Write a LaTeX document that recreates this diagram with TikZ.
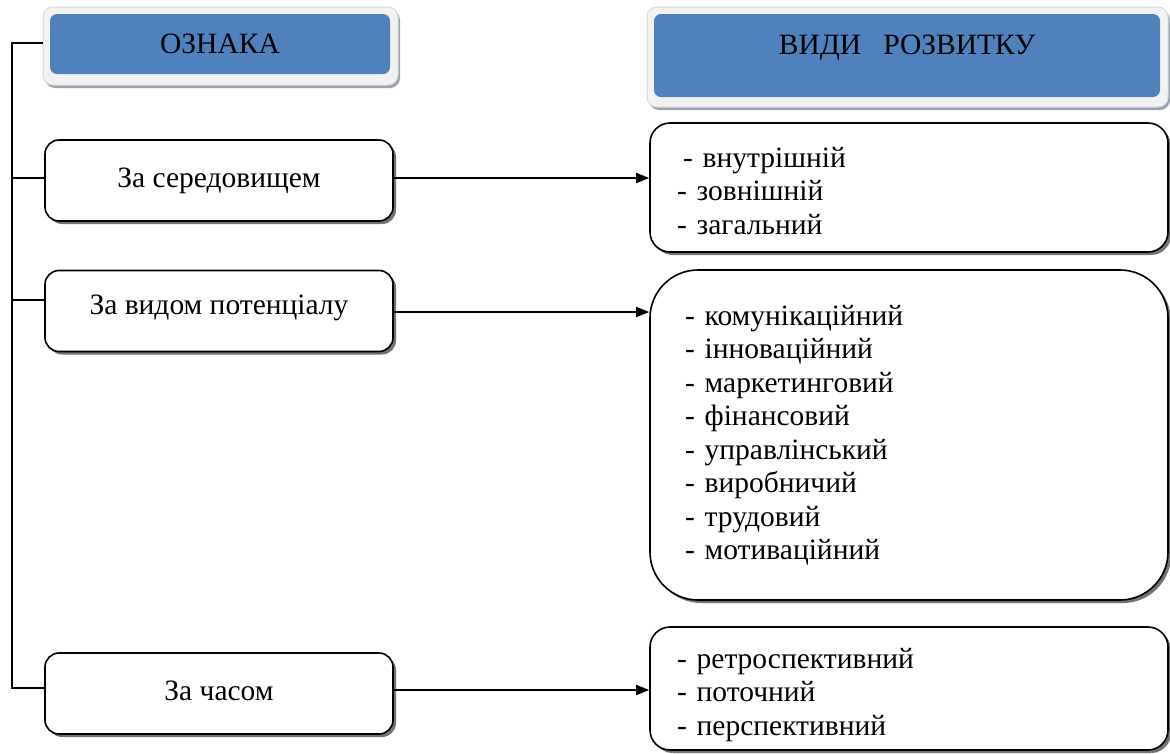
\documentclass[tikz,border=0pt]{standalone}
\usepackage{fontspec}
\setmainfont{Liberation Serif}
\usetikzlibrary{shadows,arrows.meta}
\definecolor{headblue}{HTML}{4F81BD}
\definecolor{frame}{HTML}{F2F2F2}
\definecolor{frameedge}{HTML}{D9D9D9}
\definecolor{frameshadow}{HTML}{9AA3B1}
\newcommand{\lowerby}[1]{\rule{0pt}{#1}}
\tikzset{
  headframe/.style={fill=frame, draw=frameedge, line width=1pt, rounded corners=10pt,
    drop shadow={shadow xshift=2pt, shadow yshift=-3pt, fill=frameshadow, opacity=1}},
  headfill/.style={fill=headblue, rounded corners=7pt, inner sep=0pt,
    font=\fontsize{29.5}{34}\selectfont},
  keybox/.style={draw=black, line width=1.6pt, fill=white, rounded corners=14pt,
    minimum width=348pt, minimum height=81pt, inner sep=0pt,
    drop shadow={shadow xshift=3pt, shadow yshift=-3pt, fill=black!55, opacity=1},
    font=\fontsize{29.5}{34}\selectfont},
  listbox/.style={draw=black, line width=1.6pt, fill=white,
    minimum width=518pt, inner xsep=27pt, inner ysep=0pt, text width=464pt, align=left,
    drop shadow={shadow xshift=3pt, shadow yshift=-3pt, fill=black!55, opacity=1},
    font=\fontsize{29.5}{33.5}\selectfont},
  link/.style={line width=1.6pt},
  arrowlink/.style={line width=1.6pt, -{Triangle[length=13pt,width=10pt]}}
}
\begin{document}
\begin{tikzpicture}[x=1pt,y=-1pt]
\useasboundingbox (0,0) rectangle (1170,753);

% column headings
\node[headframe, minimum width=355pt, minimum height=78pt] (signframe) at (220.5,46) {};
\node[headfill, minimum width=340pt, minimum height=60pt] (sign) at (220,44) {ОЗНАКА};
\node[headframe, minimum width=521pt, minimum height=100pt] (kindsframe) at (907.5,57) {};
\node[headfill, minimum width=506pt, minimum height=83pt, text depth=22pt]
  (kinds) at (907,55.5) {ВИДИ\ \ \ РОЗВИТКУ};

% classification criteria
\node[keybox] (env) at (219,180.5) {\raisebox{5pt}{За середовищем}};
\node[keybox] (pot) at (219,311) {\raisebox{13pt}{За видом потенціалу}};
\node[keybox] (time) at (219,693.5) {\raisebox{6pt}{За часом}};

% kinds of development
\node[listbox, rounded corners=20pt, minimum height=129pt] (envlist) at (909,187.5)
  {\lowerby{27pt}\hspace*{6pt}- внутрішній\\- зовнішній\\- загальний};
\node[listbox, rounded corners=48pt, minimum height=330pt, inner xsep=35pt, text width=448pt] (potlist) at (909,435)
  {- комунікаційний\\- інноваційний\\- маркетинговий\\- фінансовий\\- управлінський\\- виробничий\\- трудовий\\- мотиваційний};
\node[listbox, rounded corners=20pt, minimum height=123pt] (timelist) at (909,688.5)
  {\lowerby{33pt}- ретроспективний\\- поточний\\- перспективний};

% spine on the left
\coordinate (top) at (12,43);
\coordinate (bottom) at (12,688);
\draw[link] (signframe.west |- top) -- (top) -- (bottom) -- (time.west |- bottom);
\draw[link] (12,178) -- (env.west |- 0,178);
\draw[link] (12,300) -- (pot.west |- 0,300);

% arrows to the kinds
\draw[arrowlink] (env.east |- 0,178) -- (envlist.west |- 0,178);
\draw[arrowlink] (pot.east |- 0,312) -- (potlist.west |- 0,312);
\draw[arrowlink] (time.east |- 0,690) -- (timelist.west |- 0,690);
\end{tikzpicture}
\end{document}
